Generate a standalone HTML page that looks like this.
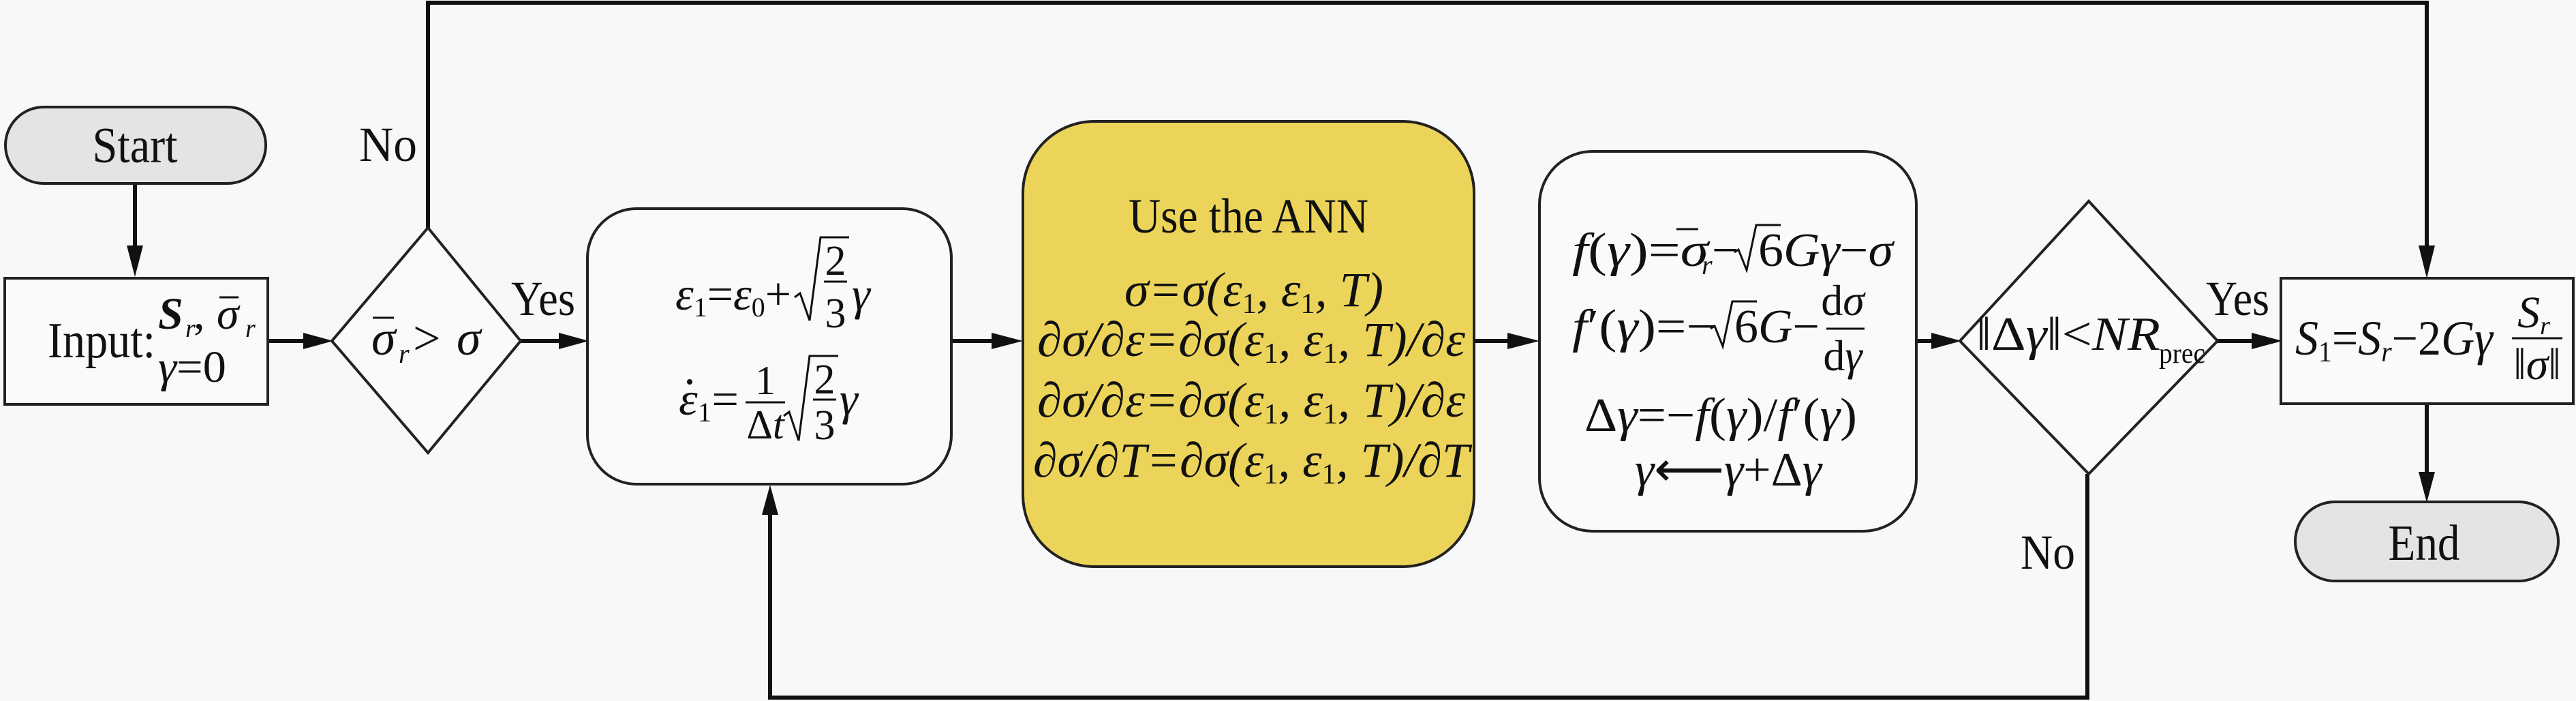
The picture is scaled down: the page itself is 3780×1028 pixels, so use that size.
<!DOCTYPE html>
<html><head><meta charset="utf-8"><style>
html,body{margin:0;padding:0;background:#f8f8f8;}
svg{display:block;}
text{font-family:"Liberation Serif",serif;fill:#111;}
.i{font-style:italic;}
</style></head><body>
<svg width="3780" height="1028" viewBox="0 0 3780 1028" xmlns="http://www.w3.org/2000/svg">
<rect width="3780" height="1028" fill="#f8f8f8"/>

<!-- connectors -->
<g stroke="#111" stroke-width="6" fill="none">
  <polyline points="628,334 628,4 3561,4 3561,360"/>
  <line x1="198" y1="269" x2="198" y2="362"/>
  <line x1="393" y1="500" x2="448" y2="500"/>
  <line x1="764" y1="500" x2="822" y2="500"/>
  <line x1="1396" y1="500" x2="1455" y2="500"/>
  <line x1="2163" y1="500" x2="2214" y2="500"/>
  <line x1="2812" y1="500" x2="2836" y2="500"/>
  <line x1="3254" y1="500" x2="3306" y2="500"/>
  <line x1="3561" y1="592" x2="3561" y2="695"/>
  <polyline points="3063,695 3063,1023 1130,1023 1130,752"/>
</g>
<g fill="#111">
  <polygon points="198,406 186,360 210,360"/>
  <polygon points="489,500 445,488 445,512"/>
  <polygon points="864,500 820,488 820,512"/>
  <polygon points="1501,500 1455,488 1455,512"/>
  <polygon points="2259,500 2212,488 2212,512"/>
  <polygon points="2878,500 2834,488 2834,512"/>
  <polygon points="3349,500 3304,488 3304,512"/>
  <polygon points="3561,408 3549,360 3573,360"/>
  <polygon points="3561,737 3549,692 3573,692"/>
  <polygon points="1130,711 1118,755 1142,755"/>
</g>

<!-- shapes -->
<g stroke="#222" stroke-width="4">
  <rect x="8" y="157" width="382" height="112" rx="56" fill="#e4e4e4"/>
  <rect x="7" y="408" width="386" height="185" fill="#fafafa"/>
  <polygon points="628,334 764,500 628,664 487,500" fill="#fafafa"/>
  <rect x="862" y="306" width="534" height="404" rx="72" fill="#fafafa"/>
  <rect x="1501" y="178" width="662" height="653" rx="105" fill="#ecd45a"/>
  <rect x="2259" y="222" width="553" height="557" rx="78" fill="#fafafa"/>
  <polygon points="3065,295 3254,500 3065,695 2876,500" fill="#fafafa"/>
  <rect x="3347" y="408" width="429" height="184" fill="#fafafa"/>
  <rect x="3368" y="736" width="386" height="116" rx="58" fill="#e4e4e4"/>
</g>

<!-- labels -->
<text x="198" y="238" font-size="74" text-anchor="middle" textLength="125" lengthAdjust="spacingAndGlyphs">Start</text>
<text x="3557" y="821" font-size="74" text-anchor="middle" textLength="105" lengthAdjust="spacingAndGlyphs">End</text>
<text x="527" y="236" font-size="72" textLength="85" lengthAdjust="spacingAndGlyphs">No</text>
<text x="2965" y="834" font-size="72" textLength="80" lengthAdjust="spacingAndGlyphs">No</text>
<text x="750" y="462" font-size="72" textLength="94" lengthAdjust="spacingAndGlyphs">Yes</text>
<text x="3237" y="462" font-size="72" textLength="93" lengthAdjust="spacingAndGlyphs">Yes</text>

<!-- input box -->
<text x="70" y="524" font-size="74" textLength="158" lengthAdjust="spacingAndGlyphs">Input:</text>
<text x="232" y="482" font-size="66" class="i" font-weight="bold">S</text>
<text x="272" y="494" font-size="38" class="i">r</text>
<text x="284" y="482" font-size="66">,</text>
<text x="318" y="482" font-size="66" class="i">σ</text>
<line x1="322" y1="436" x2="350" y2="436" stroke="#111" stroke-width="3"/>
<text x="360" y="494" font-size="38" class="i">r</text>
<text x="232" y="560" font-size="66" textLength="100" lengthAdjust="spacingAndGlyphs"><tspan class="i">γ</tspan>=0</text>

<!-- diamond 1 -->
<text x="545" y="520" font-size="72" class="i">σ</text>
<line x1="547" y1="466" x2="578" y2="466" stroke="#111" stroke-width="3"/>
<text x="585" y="532" font-size="40" class="i">r</text>
<text x="606" y="520" font-size="72">&gt;</text>
<text x="670" y="520" font-size="72" class="i">σ</text>

<!-- box2 -->
<text x="991" y="454" font-size="68" textLength="170" lengthAdjust="spacingAndGlyphs"><tspan class="i">ε</tspan><tspan font-size="40" dy="10">1</tspan><tspan dy="-10">=</tspan><tspan class="i">ε</tspan><tspan font-size="40" dy="10">0</tspan><tspan dy="-10">+</tspan></text>
<path d="M1166,436 l8,-6 l14,40 l16,-122 h42" stroke="#111" stroke-width="3" fill="none"/>
<text x="1226" y="403" font-size="62" text-anchor="middle">2</text>
<line x1="1209" y1="413" x2="1243" y2="413" stroke="#111" stroke-width="3"/>
<text x="1226" y="480" font-size="62" text-anchor="middle">3</text>
<text x="1250" y="454" font-size="68" class="i">γ</text>

<text x="996" y="608" font-size="68" textLength="88" lengthAdjust="spacingAndGlyphs"><tspan class="i">ε</tspan><tspan font-size="40" dy="10">1</tspan><tspan dy="-10">=</tspan></text>
<circle cx="1012" cy="560" r="4" fill="#111"/>
<text x="1123" y="578" font-size="60" text-anchor="middle">1</text>
<line x1="1094" y1="590" x2="1152" y2="590" stroke="#111" stroke-width="3"/>
<text x="1123" y="643" font-size="60" text-anchor="middle">Δ<tspan class="i">t</tspan></text>
<path d="M1150,610 l8,-6 l14,42 l16,-124 h42" stroke="#111" stroke-width="3" fill="none"/>
<text x="1210" y="577" font-size="62" text-anchor="middle">2</text>
<line x1="1193" y1="586" x2="1227" y2="586" stroke="#111" stroke-width="3"/>
<text x="1210" y="644" font-size="62" text-anchor="middle">3</text>
<text x="1232" y="608" font-size="68" class="i">γ</text>

<!-- ANN box -->
<g fill="#2a1a05">
<text x="1832" y="341" font-size="72" text-anchor="middle" textLength="352" lengthAdjust="spacingAndGlyphs">Use the ANN</text>
<text x="1840" y="449" font-size="72" text-anchor="middle" class="i" textLength="380" lengthAdjust="spacingAndGlyphs">σ=σ(ε<tspan font-size="42" font-style="normal" dy="10">1</tspan><tspan dy="-10">, ε</tspan><tspan font-size="42" font-style="normal" dy="10">1</tspan><tspan dy="-10">, T)</tspan></text>
<text x="1836" y="522" font-size="72" text-anchor="middle" class="i" textLength="628" lengthAdjust="spacingAndGlyphs">∂σ/∂ε=∂σ(ε<tspan font-size="42" font-style="normal" dy="10">1</tspan><tspan dy="-10">, ε</tspan><tspan font-size="42" font-style="normal" dy="10">1</tspan><tspan dy="-10">, T)/∂ε</tspan></text>
<text x="1836" y="611" font-size="72" text-anchor="middle" class="i" textLength="628" lengthAdjust="spacingAndGlyphs">∂σ/∂ε=∂σ(ε<tspan font-size="42" font-style="normal" dy="10">1</tspan><tspan dy="-10">, ε</tspan><tspan font-size="42" font-style="normal" dy="10">1</tspan><tspan dy="-10">, T)/∂ε</tspan></text>
<text x="1836" y="699" font-size="72" text-anchor="middle" class="i" textLength="640" lengthAdjust="spacingAndGlyphs">∂σ/∂T=∂σ(ε<tspan font-size="42" font-style="normal" dy="10">1</tspan><tspan dy="-10">, ε</tspan><tspan font-size="42" font-style="normal" dy="10">1</tspan><tspan dy="-10">, T)/∂T</tspan></text>
</g>

<!-- box3 -->
<text x="2307" y="390" font-size="70" textLength="200" lengthAdjust="spacingAndGlyphs"><tspan class="i">f</tspan>(<tspan class="i">γ</tspan>)=<tspan class="i">σ</tspan></text>
<line x1="2460" y1="336" x2="2492" y2="336" stroke="#111" stroke-width="3"/>
<text x="2497" y="402" font-size="40" class="i">r</text>
<text x="2512" y="390" font-size="70">−</text>
<path d="M2545,370 l6,-4 l12,30 l14,-66 h36" stroke="#111" stroke-width="3" fill="none"/>
<text x="2580" y="390" font-size="70" textLength="198" lengthAdjust="spacingAndGlyphs">6<tspan class="i">Gγ</tspan>−<tspan class="i">σ</tspan></text>

<text x="2307" y="502" font-size="70" textLength="212" lengthAdjust="spacingAndGlyphs"><tspan class="i">f</tspan>′(<tspan class="i">γ</tspan>)=−</text>
<path d="M2510,482 l6,-4 l12,30 l14,-66 h36" stroke="#111" stroke-width="3" fill="none"/>
<text x="2545" y="502" font-size="70" textLength="125" lengthAdjust="spacingAndGlyphs">6<tspan class="i">G</tspan>−</text>
<text x="2704" y="462" font-size="64" text-anchor="middle">d<tspan class="i">σ</tspan></text>
<line x1="2680" y1="482" x2="2736" y2="482" stroke="#111" stroke-width="3"/>
<text x="2704" y="543" font-size="64" text-anchor="middle">d<tspan class="i">γ</tspan></text>

<text x="2325" y="632" font-size="70" textLength="400" lengthAdjust="spacingAndGlyphs">Δ<tspan class="i">γ</tspan>=−<tspan class="i">f</tspan>(<tspan class="i">γ</tspan>)/<tspan class="i">f</tspan>′(<tspan class="i">γ</tspan>)</text>
<text x="2399" y="712" font-size="70" textLength="274" lengthAdjust="spacingAndGlyphs"><tspan class="i">γ</tspan>⟵<tspan class="i">γ</tspan>+Δ<tspan class="i">γ</tspan></text>

<!-- diamond 2 -->
<text x="2900" y="513" font-size="70" textLength="270" lengthAdjust="spacingAndGlyphs">‖Δ<tspan class="i">γ</tspan>‖&lt;<tspan class="i">NR</tspan></text>
<text x="3168" y="532" font-size="42" textLength="68" lengthAdjust="spacingAndGlyphs">prec</text>

<!-- box4 -->
<text x="3368" y="520" font-size="72" textLength="290" lengthAdjust="spacingAndGlyphs"><tspan class="i">S</tspan><tspan font-size="42" dy="10">1</tspan><tspan dy="-10">=</tspan><tspan class="i">S</tspan><tspan font-size="42" class="i" dy="10">r</tspan><tspan dy="-10">−2</tspan><tspan class="i">Gγ</tspan></text>
<text x="3718" y="480" font-size="66" class="i" text-anchor="middle">S<tspan font-size="38" dy="10">r</tspan></text>
<line x1="3686" y1="496" x2="3760" y2="496" stroke="#111" stroke-width="3"/>
<text x="3723" y="556" font-size="66" text-anchor="middle">‖<tspan class="i">σ</tspan>‖</text>
</svg>
</body></html>
